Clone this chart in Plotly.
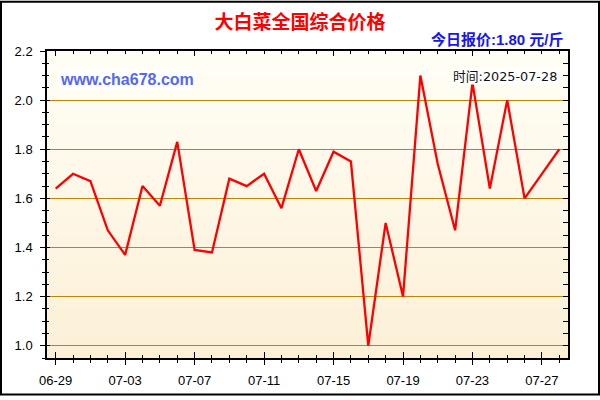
#### Import Modules ####
import plotly.graph_objects as go


#### Data ####
dates = ["2025-06-29", "2025-06-30", "2025-07-01", "2025-07-02", "2025-07-03",
         "2025-07-04", "2025-07-05", "2025-07-06", "2025-07-07", "2025-07-08",
         "2025-07-09", "2025-07-10", "2025-07-11", "2025-07-12", "2025-07-13",
         "2025-07-14", "2025-07-15", "2025-07-16", "2025-07-17", "2025-07-18",
         "2025-07-19", "2025-07-20", "2025-07-21", "2025-07-22", "2025-07-23",
         "2025-07-24", "2025-07-25", "2025-07-26", "2025-07-27", "2025-07-28"]
prices = [1.64, 1.70, 1.67, 1.47, 1.37, 1.65, 1.57, 1.83, 1.39, 1.38,
          1.68, 1.65, 1.70, 1.56, 1.80, 1.63, 1.79, 1.75, 1.00, 1.50,
          1.20, 2.10, 1.74, 1.47, 2.07, 1.64, 2.00, 1.60, 1.70, 1.80]
title_text = "大白菜全国综合价格"
today_text = "今日报价:1.80 元/斤"
site_text = "www.cha678.com"
time_text = "时间:2025-07-28"


#### Layout constants ####
W, H = 600, 400
ML, MR, MT, MB = 47, 32, 51, 38
PW, PH = W - ML - MR, H - MT - MB
X_RANGE = ["2025-06-28 12:00", "2025-07-28 12:00"]
Y_RANGE = [0.95, 2.2]
DAY = 86400000
FONT = "Liberation Sans, Arial, sans-serif"
CJK = "Noto Sans CJK SC, sans-serif"


def px_x(px):
    return (px - ML) / PW


def px_y(py):
    return (H - MB - py) / PH


def blend(c1, c2, t):
    return "rgb({},{},{})".format(*[round(a + (b - a) * t) for a, b in zip(c1, c2)])


fig = go.Figure()

# main price line
fig.add_trace(go.Scatter(x=dates, y=prices, mode="lines",
                         line=dict(color="#ff0000", width=2.3),
                         hoverinfo="x+y", showlegend=False))
# invisible copies so the extra tick axes get drawn
for xa, ya in [("x2", "y2"), ("x3", "y3")]:
    fig.add_trace(go.Scatter(x=dates, y=prices, mode="lines", xaxis=xa, yaxis=ya,
                             line=dict(color="rgba(0,0,0,0)", width=0),
                             hoverinfo="skip", showlegend=False))

# gradient background of plot area
top_c, bot_c = (255, 254, 246), (252, 240, 214)
n_bands = 60
shapes = []
for i in range(n_bands):
    shapes.append(dict(type="rect", xref="x domain", yref="y domain",
                       x0=0, x1=1, y0=i / n_bands, y1=(i + 1) / n_bands + 0.002,
                       fillcolor=blend(bot_c, top_c, i / (n_bands - 1)),
                       line=dict(width=0), layer="below"))
# outer frame round the picture
shapes.append(dict(type="rect", xref="paper", yref="paper",
                   x0=px_x(1), x1=px_x(W - 1), y0=px_y(H - 1), y1=px_y(1),
                   line=dict(color="black", width=2), fillcolor="rgba(0,0,0,0)",
                   layer="above"))

axis_common = dict(range=X_RANGE, type="date", showgrid=False, zeroline=False)
yaxis_common = dict(range=Y_RANGE, showgrid=False, zeroline=False)

fig.update_layout(
    width=W, height=H,
    margin=dict(l=ML, r=MR, t=MT, b=MB),
    paper_bgcolor="white",
    plot_bgcolor="#fffdf0",
    shapes=shapes,
    title=dict(text=title_text, x=0.5, xanchor="center", y=1 - 22 / H, yanchor="middle",
               font=dict(family=CJK, size=19, color="#ff0000", weight="bold")),
    xaxis=dict(**axis_common, tickformat="%m-%d", tick0="2025-06-29", dtick=4 * DAY,
               ticks="outside", ticklen=5, tickwidth=1.2, tickcolor="black",
               minor=dict(dtick=DAY, ticks="outside", ticklen=3, tickcolor="black"),
               showline=True, linecolor="black", linewidth=1.5,
               ticklabelstandoff=5,
               tickfont=dict(family=FONT, size=13, color="black")),
    xaxis2=dict(**axis_common, overlaying="x", anchor="y2", side="bottom",
                tick0="2025-06-29", dtick=4 * DAY, ticks="inside", ticklen=6,
                tickcolor="black", tickwidth=1.2, showticklabels=False,
                minor=dict(dtick=DAY, ticks="inside", ticklen=3, tickcolor="black")),
    xaxis3=dict(**axis_common, overlaying="x", anchor="y3", side="top",
                tick0="2025-06-29", dtick=8 * DAY, ticks="inside", ticklen=5,
                tickcolor="black", tickwidth=1.2, showticklabels=False,
                showline=True, linecolor="black", linewidth=1.5,
                minor=dict(dtick=DAY, ticks="inside", ticklen=3, tickcolor="black")),
    yaxis=dict(**{k: v for k, v in yaxis_common.items() if k != "showgrid"},
               dtick=0.2, tick0=1.0, tickformat=".1f",
               showgrid=True, gridcolor="#b8860b", gridwidth=1.2,
               ticks="outside", ticklen=5, tickwidth=1.2, tickcolor="black",
               minor=dict(dtick=0.05, ticks="outside", ticklen=3, tickcolor="black",
                          showgrid=False),
               showline=True, linecolor="black", linewidth=1.5,
               ticklabelstandoff=5,
               tickfont=dict(family=FONT, size=13, color="black")),
    yaxis2=dict(**yaxis_common, overlaying="y", anchor="x2", side="left",
                dtick=0.2, tick0=1.0, ticks="inside", ticklen=3, tickwidth=1.2,
                tickcolor="black", showticklabels=False,
                minor=dict(dtick=0.05, ticks="inside", ticklen=2, tickcolor="black")),
    yaxis3=dict(**yaxis_common, overlaying="y", anchor="x3", side="right",
                dtick=0.05, tick0=1.0, ticks="inside", ticklen=5, tickwidth=1.2,
                tickcolor="black", showticklabels=False,
                showline=True, linecolor="black", linewidth=1.5),
    annotations=[
        dict(text=today_text, xref="paper", yref="paper", x=px_x(566), y=px_y(39),
             xanchor="right", yanchor="middle", showarrow=False,
             font=dict(family="Liberation Sans, " + CJK, size=15, color="#1515ee",
                       weight="bold")),
        dict(text=site_text, xref="paper", yref="paper", x=px_x(58), y=px_y(80),
             xanchor="left", yanchor="middle", showarrow=False, bgcolor="white",
             borderpad=1,
             font=dict(family=FONT, size=16, color="#5468f0", weight="bold")),
        dict(text=time_text, xref="paper", yref="paper", x=px_x(558), y=px_y(77),
             xanchor="right", yanchor="middle", showarrow=False, bgcolor="white",
             borderpad=0,
             font=dict(family="DejaVu Sans, " + CJK, size=12.8, color="#111111")),
    ],
)

# the page has a default body margin; drop it so the chart sits at the corner
fig.write_html("out.html", config={"displayModeBar": False},
               post_script="document.body.style.margin='0';")
